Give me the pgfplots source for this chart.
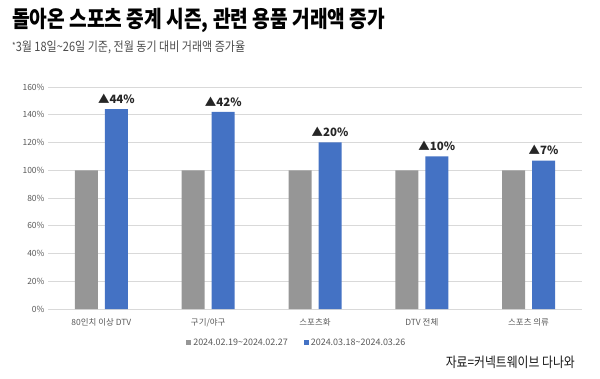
\documentclass[border=0pt]{standalone}
\usepackage{pgfplots}
\pgfplotsset{compat=1.18}
\usepackage{graphicx}
\usepackage{fontspec}
\setmainfont{Noto Sans CJK KR}
\definecolor{bargray}{HTML}{969696}
\definecolor{barblue}{HTML}{4472C4}
\definecolor{gridc}{HTML}{D9D9D9}
\definecolor{tickc}{HTML}{595959}
\begin{document}
\begin{tikzpicture}[x=1bp,y=1bp]
\path[use as bounding box] (0,0) rectangle (600,378);
\node[anchor=west,inner sep=0] at (12,358) {\resizebox{373bp}{\height}{\fontsize{23}{25}\selectfont\bfseries 돌아온 스포츠 중계 시즌, 관련 용품 거래액 증가}};
\node[anchor=west,inner sep=0,text=black!70] at (12,331) {\resizebox{233bp}{\height}{\fontsize{13}{15}\selectfont \raisebox{2bp}{\fontsize{9}{9}\selectfont *}3월 18일\textasciitilde 26일 기준, 전월 동기 대비 거래액 증가율}};
\begin{axis}[
  at={(48bp,69bp)}, anchor=south west,
  scale only axis, width=534bp, height=222bp,
  xmin=-0.5, xmax=4.5, ymin=0, ymax=160,
  axis line style={draw=none},
  tick style={draw=none},
  ymajorgrids, grid style={gridc, line width=0.8bp},
  ytick={0,20,...,160},
  yticklabel={\pgfmathprintnumber{\tick}\%},
  xtick={0,1,2,3,4},
  xticklabels={80인치 이상 DTV, 구기/야구, 스포츠화, DTV 전체, 스포츠 의류},
  xticklabel style={yshift=-1.5bp},
  ticklabel style={font=\fontsize{8.5}{10}\selectfont, text=tickc},
  /pgf/number format/assume math mode=true,
  ybar=7bp, bar width=23bp,
  legend style={at={(0.466,-0.125)}, anchor=north, draw=none, inner sep=0pt,
    legend columns=2, font=\fontsize{9}{10}\selectfont, text=tickc,
    /tikz/every even column/.append style={column sep=14bp}},
  legend image code/.code={\fill[#1] (0bp,-2.5bp) rectangle (5bp,2.5bp);},
]
\addplot[fill=bargray, draw=none] coordinates {(0,100) (1,100) (2,100) (3,100) (4,100)};
\addplot[fill=barblue, draw=none, nodes near coords, point meta=explicit symbolic,
  every node near coord/.append style={font=\fontsize{11.5}{12}\selectfont\bfseries, text=black!85, yshift=2bp}]
  coordinates {(0,144) [▲44\%] (1,142) [▲42\%] (2,120) [▲20\%] (3,110) [▲10\%] (4,107) [▲7\%]};
\legend{2024.02.19\textasciitilde 2024.02.27, 2024.03.18\textasciitilde 2024.03.26}
\end{axis}
\node[anchor=east,inner sep=0,text=black!90] at (575,16) {\resizebox{129bp}{\height}{\fontsize{14}{16}\selectfont 자료=커넥트웨이브 다나와}};
\end{tikzpicture}
\end{document}
